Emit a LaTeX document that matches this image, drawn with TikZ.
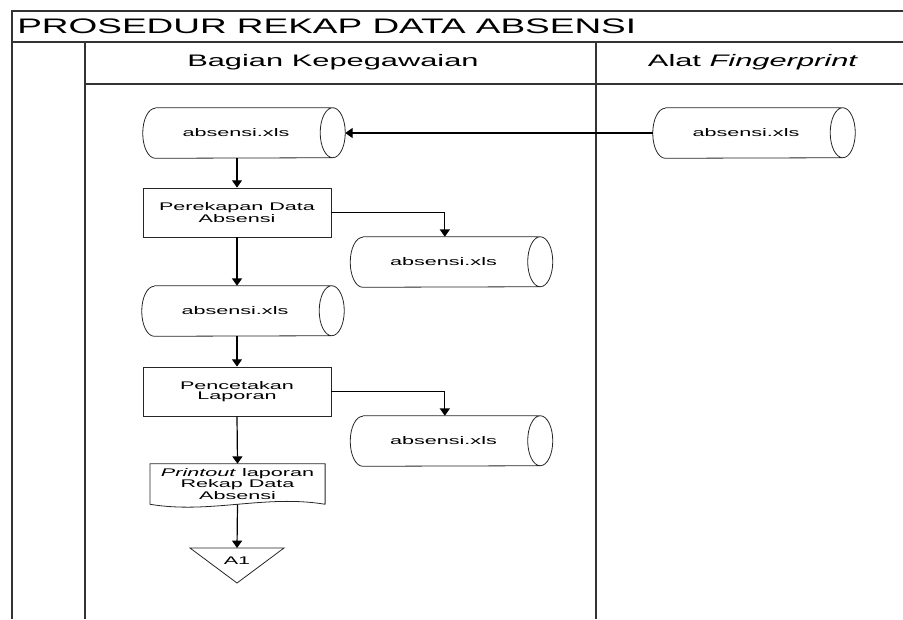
\documentclass[tikz,border=0pt]{standalone}
\usepackage{fontspec}
\setmainfont{Liberation Sans}
\newfontfamily\titlesans{Liberation Sans}[FakeStretch=1.76]
\newfontfamily\lanesans{Liberation Sans}[FakeStretch=1.85]
\newfontfamily\boxsans{Liberation Sans}[FakeStretch=1.95]
\usetikzlibrary{arrows.meta}

\begin{document}
\begin{tikzpicture}[x=0.75pt, y=-0.75pt,
        lane/.style={line width=1.2pt, draw=black!80},
        shapeline/.style={line width=0.6pt, draw=black!85},
        flowline/.style={line width=0.9pt, -{Triangle[width=7.5pt,length=5.5pt]}},
        datafile/.style={rectangle, inner sep=0pt,
            minimum width=151.5pt, minimum height=37.5pt,
            execute at begin node=\hspace*{-12pt},
            font=\boxsans\fontsize{8.3}{8}\selectfont},
        process/.style={rectangle, shapeline, align=center, inner sep=0pt,
            minimum width=141pt, minimum height=36.75pt,
            font=\boxsans\fontsize{8.3}{7.5}\selectfont},
    ]
    \useasboundingbox (0,0) rectangle (903,619);

    % swimlane frame
    \draw[lane] (903,11) -- (12,11) -- (12,619);
    \draw[lane] (12,42) -- (903,42);
    \draw[lane] (85,42) -- (85,619);
    \draw[lane] (596,42) -- (596,619);
    \draw[lane] (85,84) -- (903,84);

    \node[anchor=west, inner sep=0pt, font=\titlesans\fontsize{15.75}{19}\selectfont] (title) at (17,26) {PROSEDUR REKAP DATA ABSENSI};
    \node[font=\lanesans\fontsize{12.5}{15}\selectfont] (bagian) at (333,62) {Bagian Kepegawaian};
    \node[font=\lanesans\fontsize{12.5}{15}\selectfont] (alat)   at (753,62) {Alat \textit{Fingerprint}};

    % shapes
    \node[datafile] (fpfile) at (754,133)   {absensi.xls};
    \node[datafile] (file1)  at (244,133)   {absensi.xls};
    \node[process]  (rekap)  at (237,212.5) {Perekapan Data\\Absensi};
    \node[datafile] (file2)  at (451.5,262) {absensi.xls};
    \node[datafile] (file3)  at (243,311)   {absensi.xls};
    \node[process]  (cetak)  at (237,391.5) {Pencetakan\\Laporan};
    \node[datafile] (file4)  at (451.5,441) {absensi.xls};
    \foreach \f in {fpfile,file1,file2,file3,file4}
        \draw[shapeline] ([xshift=9.4pt]\f.north west) -- ([xshift=-9.4pt]\f.north east)
            arc[start angle=90, end angle=-90, x radius=9.4pt, y radius=18.75pt]
            -- ([xshift=9.4pt]\f.south west)
            arc[start angle=270, end angle=90, x radius=9.4pt, y radius=18.75pt]
            ([xshift=-9.4pt]\f.north east)
            arc[start angle=90, end angle=270, x radius=9.4pt, y radius=18.75pt];
    \node[align=center, inner sep=0pt, minimum width=131pt, minimum height=30pt,
        font=\boxsans\fontsize{8.3}{8.5}\selectfont] (printout) at (237.5,484)
        {\textit{Printout} laporan\\Rekap Data\\Absensi};
    \draw[shapeline] (printout.south east) -- (printout.north east) -- (printout.north west)
        -- (printout.south west) .. controls +(60,10) and +(-60,-10) .. (printout.south east);
    \coordinate (a1top) at (237,548);
    \draw[shapeline] (a1top) ++(-47,0) -- ++(94,0) -- ++(-47,35) -- cycle;
    \node[font=\boxsans\fontsize{8.3}{8}\selectfont] (a1) at (237,561) {A1};

    % connectors
    \draw[flowline] (fpfile.west) -- (file1.east);
    \draw[flowline] (rekap.north |- file1.south) -- (rekap.north);
    \draw[flowline] (rekap.east) -| ([xshift=-5pt]file2.north);
    \draw[flowline] (rekap.south) -- (rekap.south |- file3.north);
    \draw[flowline] (cetak.north |- file3.south) -- (cetak.north);
    \draw[flowline] (cetak.east) -| ([xshift=-5pt]file4.north);
    \draw[flowline] (cetak.south) -- (printout.north);
    \draw[flowline] (printout.south) -- (a1top);
\end{tikzpicture}
\end{document}
